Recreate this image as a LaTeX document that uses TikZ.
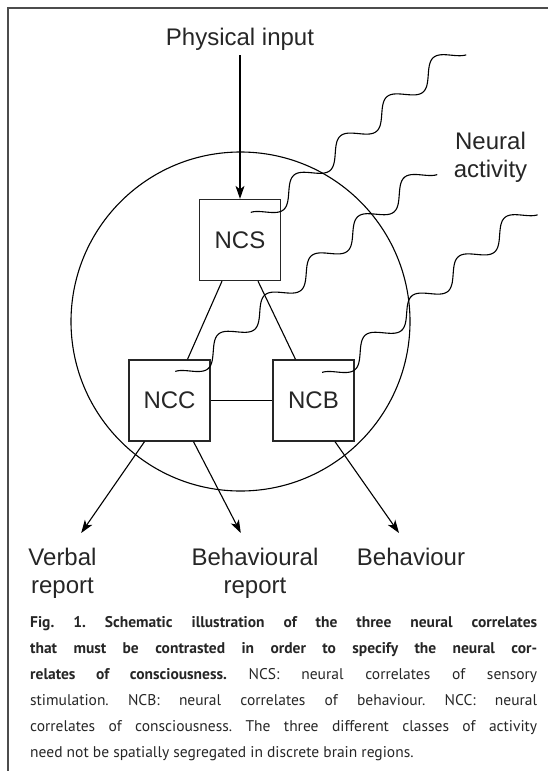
\documentclass[tikz,border=0pt]{standalone}
\usepackage{fontspec}
\setmainfont{Liberation Sans}
\newfontfamily\capfont{PT Sans}
\usetikzlibrary{arrows.meta}

\begin{document}
\begin{tikzpicture}[x=1pt, y=-1pt, >={Stealth[length=13pt,width=9pt,inset=3.5pt]},
    area/.style={draw=black!85, line width=1.3pt, minimum size=81pt},
    txt/.style={font=\fontsize{24}{28}\selectfont, text=black!85, inner sep=0pt, align=center},
    wire/.style={line width=1.1pt},
    wave/.style={line width=1.1pt, smooth, samples=150}]
    \useasboundingbox (0,0) rectangle (548,771);
    % frame
    \draw[black!70, line width=1.5pt] (548,8) -- (8,8) -- (8,771);

    \node[txt, anchor=base] (input) at (240,45) {Physical input};
    \node[circle, draw, line width=1.1pt, minimum size=339pt, inner sep=0pt] (brain) at (240.5,321.5) {};
    \node[area, txt] (NCS) at (240,240) {NCS};
    \node[area, txt] (NCC) at (169.5,400.5) {NCC};
    \node[area, txt] (NCB) at (313.5,400.5) {NCB};

    \node[txt, anchor=north] (neural) at (490.5,131.5) {Neural\\activity};
    \node[txt, anchor=north] (verbal) at (62.5,548) {Verbal\\report};
    \node[txt, anchor=north] (behrep) at (255,548) {Behavioural\\report};
    \node[txt, anchor=north] (behav) at (411,548) {Behaviour};

    \draw[wire, ->] ([yshift=-5pt]input.south) -- (NCS);
    \draw[wire] ([xshift=-18pt]NCS.south) -- ([xshift=18pt]NCC.north);
    \draw[wire] ([xshift=18pt]NCS.south) -- ([xshift=-18pt]NCB.north);
    \draw[wire] (NCC) -- (NCB);
    \draw[wire, ->] ([xshift=-25pt]NCC.south) -- ([xshift=18.7pt,yshift=15pt]verbal.north);
    \draw[wire, ->] ([xshift=24pt]NCC.south) -- ([xshift=-14.2pt,yshift=15pt]behrep.north);
    \draw[wire, ->] ([xshift=21.5pt]NCB.south) -- ([xshift=-12pt,yshift=15pt]behav.north);

    % neural activity
    \draw[wave, shift={(NCS.center)}] plot[domain=-0.19:4.19] ({25.5+46.5*\x+6.39*sin(360*\x)}, {-28-39.2*\x+7.57*sin(360*\x)});
    \draw[wave, shift={(NCC.center)}] plot[domain=-0.19:5.19] ({20.5+46.5*\x+6.39*sin(360*\x)}, {-29.5-39.2*\x+7.57*sin(360*\x)});
    \draw[wave, shift={(NCB.center)}] plot[domain=-0.19:4.19] ({23.4+46.5*\x+6.39*sin(360*\x)}, {-28.5-39.2*\x+7.57*sin(360*\x)});

    \node[anchor=north west, inner sep=0pt, align=left, text=black!85, font=\capfont\fontsize{15.5}{26}\selectfont\frenchspacing] (caption) at (30,616) {%
      \makebox[507pt][s]{\bfseries Fig. 1. Schematic illustration of the three neural correlates}\\
      \makebox[507pt][s]{\bfseries that must be contrasted in order to specify the neural cor-}\\
      \makebox[507pt][s]{\textbf{relates of consciousness.} NCS: neural correlates of sensory}\\
      \makebox[507pt][s]{stimulation. NCB: neural correlates of behaviour. NCC: neural}\\
      \makebox[507pt][s]{correlates of consciousness. The three different classes of activity}\\
      need not be spatially segregated in discrete brain regions.};
\end{tikzpicture}
\end{document}
